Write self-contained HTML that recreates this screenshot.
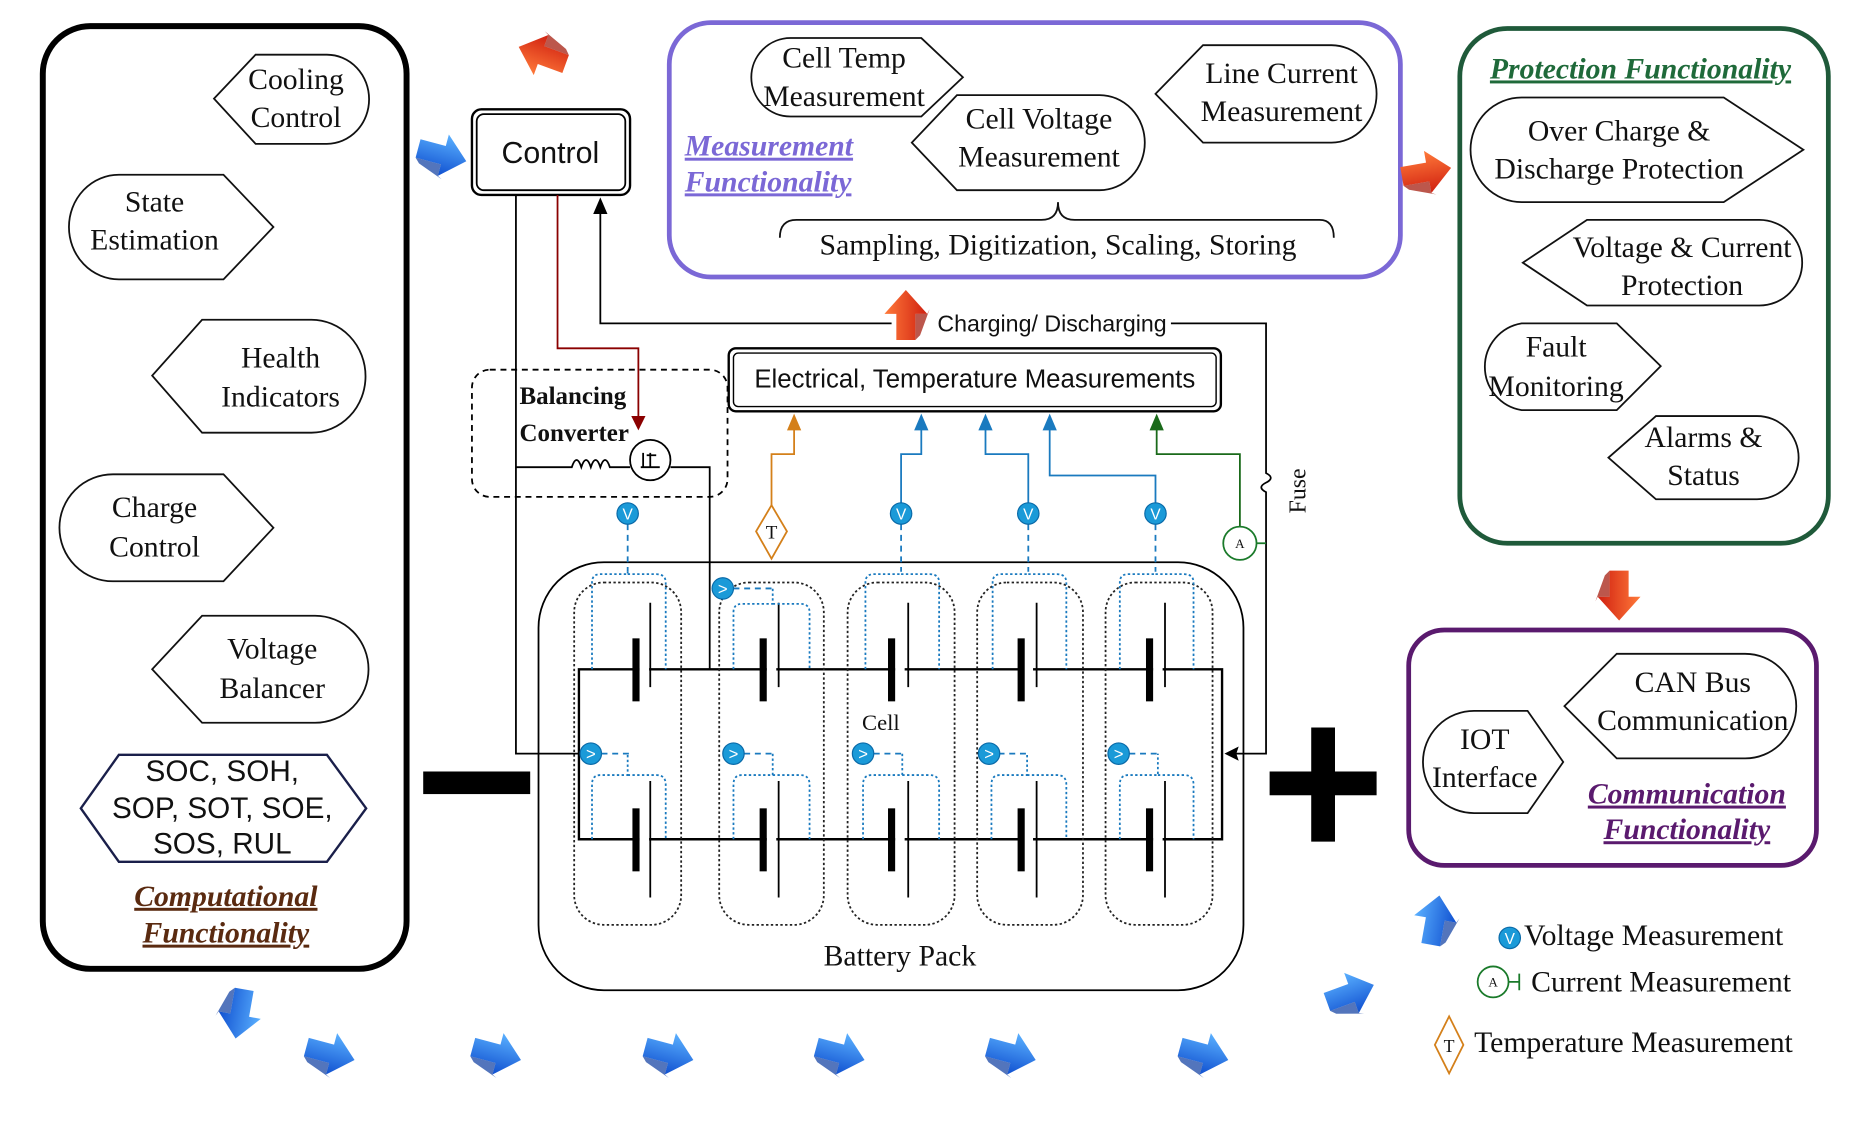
<!DOCTYPE html>
<html><head><meta charset="utf-8"><style>
html,body{margin:0;padding:0;background:#fff;}
svg{display:block}
.s{font-family:"Liberation Serif",serif;font-size:25px;fill:#111;text-anchor:middle}
.a{font-family:"Liberation Sans",sans-serif;fill:#111;text-anchor:middle}
.t{font-family:"Liberation Serif",serif;font-size:25px;font-weight:bold;font-style:italic;text-decoration:underline;text-anchor:middle}
</style></head><body>
<svg width="1864" height="1140" viewBox="0 0 1568 959" preserveAspectRatio="none" xmlns="http://www.w3.org/2000/svg">
<defs>
<linearGradient id="bg" x1="0" y1="0" x2="0" y2="1"><stop offset="0" stop-color="#5ab0ff"/><stop offset="1" stop-color="#1050d0"/></linearGradient>
<linearGradient id="rg" x1="0" y1="0" x2="0" y2="1"><stop offset="0" stop-color="#ff7a3a"/><stop offset="1" stop-color="#d02010"/></linearGradient>
<g id="ba"><polygon points="-20,-8 2,-8 2,-18 22,0 2,18 2,8 -20,8" fill="url(#bg)"/><polygon points="-20,8 2,8 2,18 6,20 -16,12" fill="#0a3aa0" opacity="0.7"/></g>
<g id="ra"><polygon points="-20,-8 2,-8 2,-18 22,0 2,18 2,8 -20,8" fill="url(#rg)"/><polygon points="-20,8 2,8 2,18 6,20 -16,12" fill="#a01000" opacity="0.7"/></g>
<g id="vc"><circle r="9" fill="#1a9ad8" stroke="#0a6aa8"/><text y="5" class="a" style="font-size:13px;fill:#fff">V</text></g>
<g id="vs"><circle r="9" fill="#1a9ad8" stroke="#0a6aa8"/><text y="5" class="a" style="font-size:14px;fill:#fff">&gt;</text></g>
</defs>

<!-- Left panel -->
<rect x="36" y="22" width="306" height="793" rx="40" fill="none" stroke="#000" stroke-width="5"/>
<g fill="none" stroke="#111" stroke-width="1.5">
<path d="M215,46 H275 A35,37 0 0 1 275,121 H215 L180,83 Z"/>
<path d="M100,147 H188 L230,191 L188,235 H100 A42,44 0 0 1 100,147 Z"/>
<path d="M170,269 H262 A45,47 0 0 1 262,364 H170 L128,316 Z"/>
<path d="M95,399 H188 L230,444 L188,489 H95 A45,45 0 0 1 95,399 Z"/>
<path d="M170,518 H265 A45,45 0 0 1 265,608 H170 L128,563 Z"/>
<path d="M100,635 H275 L308,680 L275,725 H100 L68,680 Z" stroke="#1a1f4a" stroke-width="2"/>
</g>
<text class="s" x="249" y="75">Cooling</text><text class="s" x="249" y="107">Control</text>
<text class="s" x="130" y="178">State</text><text class="s" x="130" y="210">Estimation</text>
<text class="s" x="236" y="309">Health</text><text class="s" x="236" y="342">Indicators</text>
<text class="s" x="130" y="435">Charge</text><text class="s" x="130" y="468">Control</text>
<text class="s" x="229" y="554">Voltage</text><text class="s" x="229" y="587">Balancer</text>
<text class="a" font-size="25" x="187" y="657">SOC, SOH,</text>
<text class="a" font-size="25" x="187" y="688">SOP, SOT, SOE,</text>
<text class="a" font-size="25" x="187" y="718">SOS, RUL</text>
<text class="t" x="190" y="762" fill="#5a2a10">Computational</text>
<text class="t" x="190" y="793" fill="#5a2a10">Functionality</text>

<!-- Control -->
<rect x="397" y="92" width="133" height="72" rx="8" fill="none" stroke="#000" stroke-width="2"/>
<rect x="401" y="96" width="125" height="64" rx="6" fill="none" stroke="#000" stroke-width="1.5"/>
<text class="a" font-size="25.5" x="463" y="137">Control</text>

<!-- Measurement panel -->
<rect x="563" y="19" width="615" height="214" rx="35" fill="none" stroke="#7b68d6" stroke-width="4"/>
<g fill="none" stroke="#111" stroke-width="1.5">
<path d="M665,32 H775 L810,65 L775,98 H665 A33,33 0 0 1 665,32 Z"/>
<path d="M805,80 H925 A38,40 0 0 1 925,160 H805 L767,120 Z"/>
<path d="M1012,38 H1120 A38,41 0 0 1 1120,120 H1012 L972,79 Z"/>
<path d="M656,200 Q656,185 670,185 H876 Q890,185 890,170 Q890,185 904,185 H1110 Q1122,185 1122,200"/>
</g>
<text class="s" x="710" y="57">Cell Temp</text><text class="s" x="710" y="89">Measurement</text>
<text class="s" x="874" y="108">Cell Voltage</text><text class="s" x="874" y="140">Measurement</text>
<text class="s" x="1078" y="70">Line Current</text><text class="s" x="1078" y="102">Measurement</text>
<text class="t" x="576" y="131" fill="#7b68d6" style="text-anchor:start">Measurement</text>
<text class="t" x="576" y="161" fill="#7b68d6" style="text-anchor:start">Functionality</text>
<text class="s" x="890" y="214">Sampling, Digitization, Scaling, Storing</text>

<!-- Protection panel -->
<rect x="1228" y="24" width="310" height="433" rx="40" fill="none" stroke="#1f5a3a" stroke-width="4"/>
<g fill="none" stroke="#111" stroke-width="1.5">
<path d="M1280,82 H1450 L1517,126 L1450,170 H1280 A43,44 0 0 1 1280,82 Z"/>
<path d="M1335,185 H1480 A36,36 0 0 1 1480,257 H1335 L1281,221 Z"/>
<path d="M1280,272 H1360 L1397,308 L1360,345 H1280 A37,37 0 0 1 1280,272 Z"/>
<path d="M1393,350 H1478 A35,35 0 0 1 1478,420 H1393 L1353,385 Z"/>
</g>
<text class="t" x="1380" y="66" fill="#1f6a3a">Protection Functionality</text>
<text class="s" x="1362" y="118">Over Charge &amp;</text><text class="s" x="1362" y="150">Discharge Protection</text>
<text class="s" x="1415" y="216">Voltage &amp; Current</text><text class="s" x="1415" y="248">Protection</text>
<text class="s" x="1309" y="300">Fault</text><text class="s" x="1309" y="333">Monitoring</text>
<text class="s" x="1433" y="376">Alarms &amp;</text><text class="s" x="1433" y="408">Status</text>

<!-- Communication panel -->
<rect x="1185" y="530" width="343" height="198" rx="30" fill="none" stroke="#5a1a6e" stroke-width="4"/>
<g fill="none" stroke="#111" stroke-width="1.5">
<path d="M1360,550 H1468 A43,44 0 0 1 1468,638 H1360 L1316,594 Z"/>
<path d="M1240,598 H1285 L1315,641 L1285,684 H1240 A43,43 0 0 1 1240,598 Z"/>
</g>
<text class="s" x="1424" y="582">CAN Bus</text><text class="s" x="1424" y="614">Communication</text>
<text class="s" x="1249" y="630">IOT</text><text class="s" x="1249" y="662">Interface</text>
<text class="t" x="1419" y="676" fill="#5a1a6e">Communication</text>
<text class="t" x="1419" y="706" fill="#5a1a6e">Functionality</text>

<!-- Legend -->
<use href="#vc" x="1270" y="789"/>
<text class="s" x="1282" y="795" style="text-anchor:start">Voltage Measurement</text>
<circle cx="1256" cy="826" r="13" fill="none" stroke="#1a7a2a" stroke-width="1.5"/>
<text class="s" x="1256" y="830" style="font-size:11px">A</text>
<path d="M1269,826 H1278 M1278,819 V833" stroke="#1a7a2a" stroke-width="1.5"/>
<text class="s" x="1288" y="834" style="text-anchor:start">Current Measurement</text>
<path d="M1219,855 L1231,879 L1219,903 L1207,879 Z" fill="none" stroke="#d4801a" stroke-width="1.5"/>
<text class="s" x="1219" y="885" style="font-size:15px">T</text>
<text class="s" x="1240" y="885" style="text-anchor:start">Temperature Measurement</text>

<!-- Electrical measurements box -->
<rect x="613" y="293" width="414" height="53" rx="6" fill="none" stroke="#000" stroke-width="2"/>
<rect x="617" y="297" width="406" height="45" rx="4" fill="none" stroke="#000" stroke-width="1.2"/>
<text class="a" font-size="21.7" x="820" y="326">Electrical, Temperature Measurements</text>

<!-- Wires -->
<g fill="none" stroke-width="1.5">
<path d="M434,164 V634 H488" stroke="#000"/>
<path d="M469,164 V293 H537 V355" stroke="#8b0000"/>
<path d="M505,172 V272 H750 M983,272 H1065 V398 Q1073,402 1065,406 Q1057,410 1065,414 V634 H1035" stroke="#000"/>
<path d="M1043,443 V382 H973 V352" stroke="#1a6a1a"/>
<path d="M649,425 V382 H668 V352" stroke="#d4801a"/>
<path d="M758,423 V382 H775 V352 M865,423 V382 H829 V352 M972,423 V400 H883 V352" stroke="#1a7abf"/>
</g>
<polygon points="531,350 543,350 537,362" fill="#8b0000"/>
<polygon points="499,180 511,180 505,166" fill="#000"/>
<polygon points="1030,634 1042,628 1040,634 1042,640" fill="#000"/>
<polygon points="967,362 979,362 973,348" fill="#1a6a1a"/>
<polygon points="662,362 674,362 668,348" fill="#d4801a"/>
<polygon points="769,362 781,362 775,348" fill="#1a7abf"/>
<polygon points="823,362 835,362 829,348" fill="#1a7abf"/>
<polygon points="877,362 889,362 883,348" fill="#1a7abf"/>
<rect x="785" y="260" width="200" height="22" fill="#fff"/>
<text class="a" font-size="19.5" x="885" y="279">Charging/ Discharging</text>
<text class="s" style="font-size:20px" transform="translate(1098,413) rotate(-90)">Fuse</text>
<circle cx="1043" cy="457" r="14" fill="#fff" stroke="#1a7a2a" stroke-width="1.5"/>
<text class="s" x="1043" y="461" style="font-size:11px">A</text>
<path d="M1057,457 H1065" stroke="#1a7a2a" stroke-width="1.5"/>
<path d="M649,425 L662,447 L649,470 L636,447 Z" fill="#fff" stroke="#d4801a" stroke-width="1.5"/>
<text class="s" x="649" y="453" style="font-size:16px">T</text>

<!-- Balancing converter -->
<rect x="397" y="311" width="215" height="107" rx="15" fill="none" stroke="#000" stroke-width="1.5" stroke-dasharray="5,4"/>
<text class="s" x="437" y="340" style="font-size:21px;font-weight:bold;text-anchor:start">Balancing</text>
<text class="s" x="437" y="371" style="font-size:21px;font-weight:bold;text-anchor:start">Converter</text>
<g fill="none" stroke="#000" stroke-width="1.5">
<path d="M434,393 H481 q4,-12 8,0 q4,-12 8,0 q4,-12 8,0 q4,-12 8,0 H530 M564,393 H597 V563"/>
<circle cx="547" cy="387" r="17"/>
<path d="M539,393 H555 M541,381 V393 M547,381 V393 M544,383 H552"/>
</g>

<!-- Battery pack -->
<rect x="453" y="473" width="593" height="360" rx="55" fill="none" stroke="#000" stroke-width="1.5"/>
<text class="s" x="757" y="812">Battery Pack</text>
<path d="M487,563 H1028 V706 H487 Z" fill="none" stroke="#000" stroke-width="2"/>
<g fill="none" stroke="#222" stroke-width="1.5" stroke-dasharray="2,2">
<rect x="483" y="490" width="90" height="288" rx="25"/>
<rect x="605" y="490" width="88" height="288" rx="25"/>
<rect x="713" y="490" width="90" height="288" rx="25"/>
<rect x="822" y="490" width="89" height="288" rx="25"/>
<rect x="930" y="490" width="90" height="288" rx="25"/>
</g>
<g fill="#fff">
<rect x="538" y="558" width="8" height="10"/><rect x="645" y="558" width="8" height="10"/><rect x="753" y="558" width="8" height="10"/><rect x="861" y="558" width="8" height="10"/><rect x="970" y="558" width="8" height="10"/>
<rect x="538" y="701" width="8" height="10"/><rect x="645" y="701" width="8" height="10"/><rect x="753" y="701" width="8" height="10"/><rect x="861" y="701" width="8" height="10"/><rect x="970" y="701" width="8" height="10"/>
</g>
<g fill="#000">
<rect x="532" y="537" width="6" height="53"/><rect x="639" y="537" width="6" height="53"/><rect x="747" y="537" width="6" height="53"/><rect x="856" y="537" width="6" height="53"/><rect x="964" y="537" width="6" height="53"/>
<rect x="532" y="680" width="6" height="53"/><rect x="639" y="680" width="6" height="53"/><rect x="747" y="680" width="6" height="53"/><rect x="856" y="680" width="6" height="53"/><rect x="964" y="680" width="6" height="53"/>
</g>
<g stroke="#000" stroke-width="1.5">
<path d="M547,507 V578 M655,507 V578 M764,507 V578 M872,507 V578 M980,507 V578"/>
<path d="M547,657 V755 M655,657 V755 M764,657 V755 M872,657 V755 M980,657 V755"/>
</g>
<text class="s" x="741" y="614" style="font-size:19px">Cell</text>
<g fill="none" stroke="#1a7abf" stroke-width="1.5">
<g stroke-dasharray="5,4">
<path d="M528,441 V481 M758,441 V481 M865,441 V481 M972,441 V481"/>
<path d="M506,634 H530 M626,634 H650 M735,634 H759 M840,634 H864 M950,634 H974 M617,495 H650"/>
</g>
<g stroke-dasharray="2,2">
<path d="M498,563 V490 Q498,483 505,483 H528 V481 M528,483 H552 Q560,483 560,490 V563"/>
<path d="M728,563 V490 Q728,483 735,483 H758 M758,483 H782 Q790,483 790,490 V563"/>
<path d="M835,563 V490 Q835,483 842,483 H865 M865,483 H889 Q897,483 897,490 V563"/>
<path d="M942,563 V490 Q942,483 949,483 H972 M972,483 H996 Q1004,483 1004,490 V563"/>
<path d="M617,563 V515 Q617,508 624,508 H650 V495 M650,508 H673 Q681,508 681,515 V563"/>
<path d="M498,706 V660 Q498,652 505,652 H528 V634 M528,652 H552 Q560,652 560,660 V706"/>
<path d="M617,706 V660 Q617,652 624,652 H650 V634 M650,652 H673 Q681,652 681,660 V706"/>
<path d="M726,706 V660 Q726,652 733,652 H759 V634 M759,652 H782 Q790,652 790,660 V706"/>
<path d="M834,706 V660 Q834,652 841,652 H864 V634 M864,652 H889 Q897,652 897,660 V706"/>
<path d="M942,706 V660 Q942,652 949,652 H974 V634 M974,652 H996 Q1004,652 1004,660 V706"/>
</g>
</g>
<use href="#vc" x="528" y="432"/><use href="#vc" x="758" y="432"/><use href="#vc" x="865" y="432"/><use href="#vc" x="972" y="432"/>
<use href="#vs" x="497" y="634"/><use href="#vs" x="617" y="634"/><use href="#vs" x="726" y="634"/><use href="#vs" x="832" y="634"/><use href="#vs" x="941" y="634"/><use href="#vs" x="608" y="495"/>

<!-- Minus / Plus -->
<rect x="356" y="649" width="90" height="19" fill="#000"/>
<rect x="1068" y="649" width="90" height="20" fill="#000"/>
<rect x="1103" y="612" width="20" height="96" fill="#000"/>

<!-- 3D arrows -->
<use href="#ra" transform="translate(457,47) rotate(200)"/>
<use href="#ra" transform="translate(1199,145) rotate(-10)"/>
<use href="#ra" transform="translate(1362,500) rotate(90)"/>
<use href="#ra" transform="translate(762,266) rotate(-90)"/>
<use href="#ba" transform="translate(371,130) rotate(15)"/>
<use href="#ba" transform="translate(202,852) rotate(100)"/>
<use href="#ba" transform="translate(277,886) rotate(15)"/>
<use href="#ba" transform="translate(417,886) rotate(15)"/>
<use href="#ba" transform="translate(562,886) rotate(15)"/>
<use href="#ba" transform="translate(706,886) rotate(15)"/>
<use href="#ba" transform="translate(850,886) rotate(15)"/>
<use href="#ba" transform="translate(1012,886) rotate(15)"/>
<use href="#ba" transform="translate(1135,836) rotate(-20)"/>
<use href="#ba" transform="translate(1207,775) rotate(-80)"/>
</svg>
</body></html>
